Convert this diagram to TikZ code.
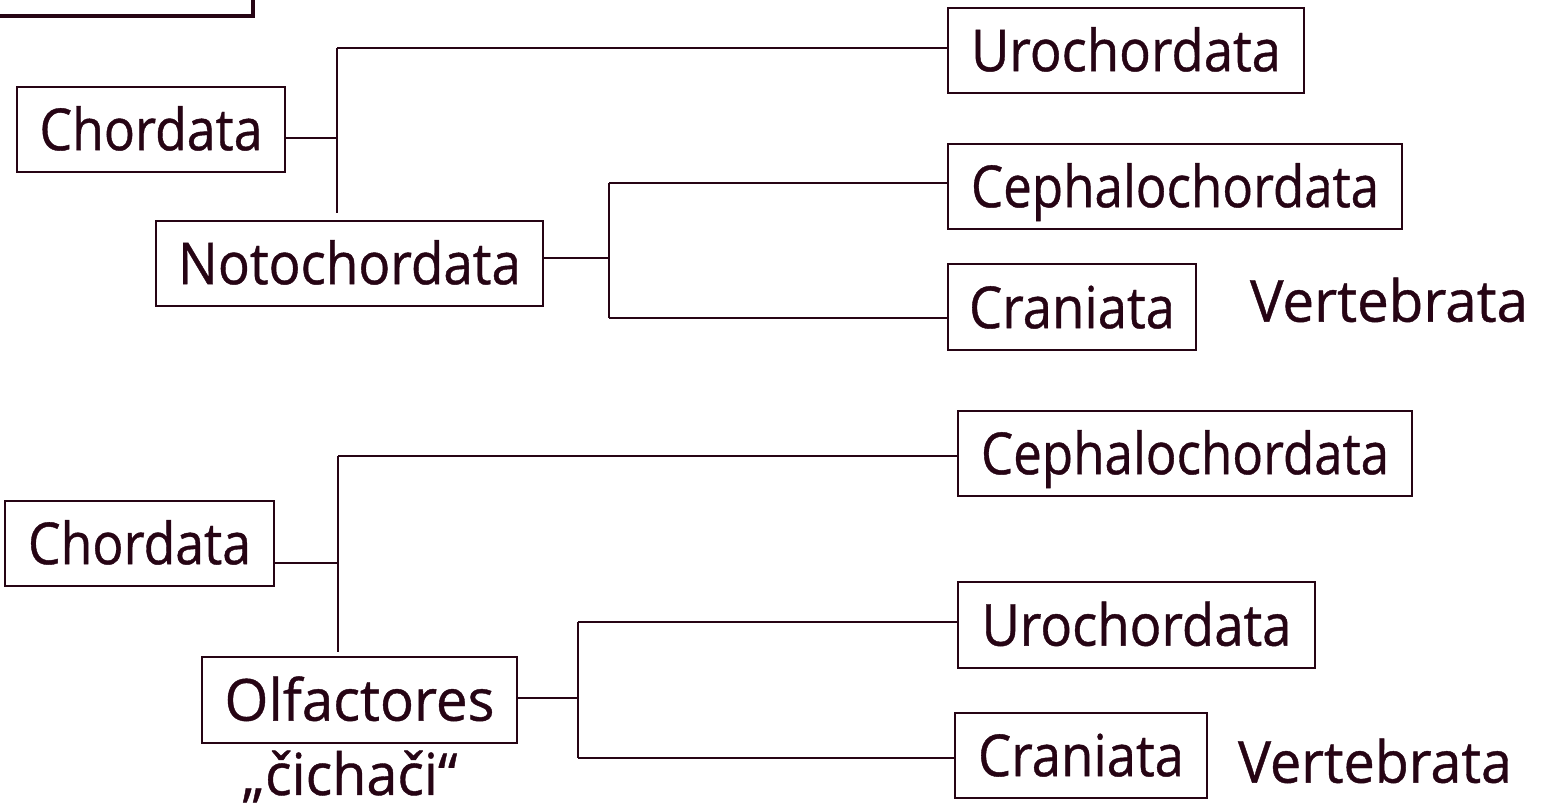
\documentclass[tikz,border=0pt]{standalone}
\usepackage{fontspec}
\setmainfont{Open Sans}[FakeBold=0.7]
\definecolor{ink}{RGB}{38,4,20}
% set a name to a given width, keeping its natural height
\newcommand{\wide}[2]{\resizebox{#1}{\height}{#2}}
\begin{document}
\begin{tikzpicture}[x=0.5pt,y=-0.5pt,
  font=\fontsize{29}{34}\selectfont,
  taxon/.style={draw=ink, line width=1pt, inner sep=0pt, minimum height=42.5pt,
                text=ink, text height=20.7pt, text depth=0pt},
  plain/.style={inner sep=0pt, text=ink, text height=20.7pt, text depth=0pt},
  link/.style={draw=ink, line width=1pt}]
\useasboundingbox (0,0) rectangle (1544,806);

% frame corner at the top left
\coordinate (fa) at (0,16);
\coordinate (fb) at (253,16);
\coordinate (fc) at (253,0);
\draw[ink, line width=2pt] (fa) -- (fb) -- (fc);

% ---------- first tree: Chordata -> Urochordata + Notochordata ----------
\node[taxon, minimum width=134pt]   (cho1)  at (151,129.5)  {\wide{111.5pt}{Chordata}};
\node[taxon, minimum width=178pt]   (uro1)  at (1126,50.5)  {\wide{155pt}{Urochordata}};
\node[taxon, minimum width=193.5pt] (noto)  at (349.5,263.5){\wide{171.5pt}{Notochordata}};
\node[taxon, minimum width=227pt]   (ceph1) at (1175,186.5) {\wide{204pt}{Cephalochordata}};
\node[taxon, minimum width=124pt, minimum height=43pt] (cran1) at (1072,307.5) {\wide{103pt}{Craniata}};
\node[plain] (vert1) at (1389,301) {\wide{139pt}{Vertebrata}};

\coordinate (a1) at (337,138);
\coordinate (a1t) at (337,48);
\coordinate (a1b) at (337,213);
\draw[link] (cho1.east |- a1) -- (a1);
\draw[link] (a1t) -- (a1b);
\draw[link] (a1t) -- (uro1.west |- a1t);

\coordinate (n1) at (609,258);
\coordinate (n1t) at (609,183);
\coordinate (n1b) at (609,318);
\draw[link] (noto.east |- n1) -- (n1);
\draw[link] (n1t) -- (n1b);
\draw[link] (n1t) -- (ceph1.west |- n1t);
\draw[link] (n1b) -- (cran1.west |- n1b);

% ---------- second tree: Chordata -> Cephalochordata + Olfactores ----------
\node[taxon, minimum width=134.5pt] (cho2)  at (139.5,543.5) {\wide{111.5pt}{Chordata}};
\node[taxon, minimum width=227pt]   (ceph2) at (1185,453.5)  {\wide{204pt}{Cephalochordata}};
\node[taxon, minimum width=157.5pt, minimum height=43pt] (olf) at (359.5,700) {\wide{135pt}{Olfactores}};
\node[taxon, minimum width=178.5pt, minimum height=43pt] (uro2) at (1136.5,625) {\wide{155pt}{Urochordata}};
\node[taxon, minimum width=126pt]   (cran2) at (1081,755.5)  {\wide{103pt}{Craniata}};
\node[plain] (vert2) at (1375,762) {\wide{137pt}{Vertebrata}};
\node[inner sep=0pt, text=ink, anchor=base] (cich) at (350,795) {\wide{107.5pt}{„čichači“}};

\coordinate (a2) at (338,563);
\coordinate (a2t) at (338,456);
\coordinate (a2b) at (338,652);
\draw[link] (cho2.east |- a2) -- (a2);
\draw[link] (a2t) -- (a2b);
\draw[link] (a2t) -- (ceph2.west |- a2t);

\coordinate (o2) at (578,698);
\coordinate (o2t) at (578,622);
\coordinate (o2b) at (578,758);
\draw[link] (olf.east |- o2) -- (o2);
\draw[link] (o2t) -- (o2b);
\draw[link] (o2t) -- (uro2.west |- o2t);
\draw[link] (o2b) -- (cran2.west |- o2b);
\end{tikzpicture}
\end{document}
